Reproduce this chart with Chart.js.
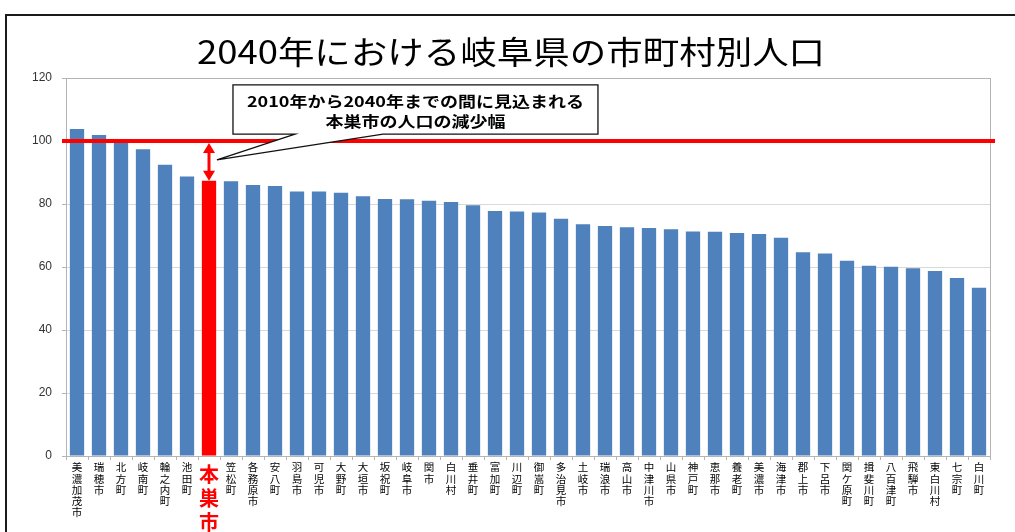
<!DOCTYPE html>
<html lang="ja">
<head>
<meta charset="utf-8">
<script src="https://cdn.jsdelivr.net/npm/chart.js@4.4.1/dist/chart.umd.min.js"></script>
<style>
html, body { margin: 0; padding: 0; background: #fff; }
#wrap { position: relative; width: 1015px; height: 532px; overflow: hidden; }
#frame { position: absolute; left: 5px; top: 14px; width: 1040px; height: 560px; border: 2px solid #1a1a1a; box-sizing: border-box; pointer-events: none; }
canvas { position: absolute; left: 0; top: 0; }
</style>
</head>
<body>
<div id="wrap">
  <canvas id="chart" width="1015" height="532"></canvas>
  <div id="frame"></div>
</div>
<script>
// data (2010 = 100)
const cities = ['美濃加茂市','瑞穂市','北方町','岐南町','輪之内町','池田町','本巣市','笠松町','各務原市','安八町',
  '羽島市','可児市','大野町','大垣市','坂祝町','岐阜市','関市','白川村','垂井町','富加町',
  '川辺町','御嵩町','多治見市','土岐市','瑞浪市','高山市','中津川市','山県市','神戸町','恵那市',
  '養老町','美濃市','海津市','郡上市','下呂市','関ケ原町','揖斐川町','八百津町','飛騨市','東白川村',
  '七宗町','白川町'];
const population = [103.8, 101.9, 100.4, 97.4, 92.5, 88.7, 87.4, 87.2, 86.0, 85.7,
  84.0, 84.0, 83.6, 82.5, 81.6, 81.5, 81.0, 80.6, 79.6, 77.8,
  77.6, 77.3, 75.3, 73.6, 73.0, 72.6, 72.4, 72.0, 71.3, 71.2,
  70.8, 70.5, 69.3, 64.7, 64.3, 62.0, 60.4, 60.1, 59.6, 58.7,
  56.5, 53.4];
const highlight = '本巣市';
const baseLine = 100;
const titleText = '2040年における岐阜県の市町村別人口';
const calloutLines = ['2010年から2040年までの間に見込まれる', '本巣市の人口の減少幅'];

const hiIndex = cities.indexOf(highlight);
const FONT = '"Noto Sans CJK JP", "Noto Sans", sans-serif';

// callout box placement in scale units (category index / y value)
const callout = { left: 7.09, right: 23.68, top: 117.8, bottom: 102.2, base1: 9.91, base2: 13.91, tipX: 6.36, tipY: 94 };

const extras = {
  id: 'extras',
  afterDatasetsDraw(chart) {
    const { ctx, chartArea: area, scales: { x, y } } = chart;
    ctx.save();
    // plot frame
    ctx.strokeStyle = '#b4b4b4';
    ctx.lineWidth = 1;
    ctx.strokeRect(area.left + 0.5, area.top + 0.5, area.right - area.left, area.bottom - area.top);

    // 100 line
    const y100 = y.getPixelForValue(baseLine);
    ctx.fillStyle = '#ff0000';
    ctx.fillRect(area.left - 4, y100 - 2, area.right - area.left + 9, 4);

    // double arrow
    const ax = x.getPixelForValue(hiIndex);
    const yTop = y100 + 2;
    const yBot = y.getPixelForValue(population[hiIndex]);
    ctx.strokeStyle = '#ff0000';
    ctx.lineWidth = 3;
    ctx.beginPath();
    ctx.moveTo(ax, yTop + 8);
    ctx.lineTo(ax, yBot - 8);
    ctx.stroke();
    ctx.beginPath();
    ctx.moveTo(ax, yTop); ctx.lineTo(ax - 6, yTop + 10); ctx.lineTo(ax + 6, yTop + 10); ctx.closePath();
    ctx.moveTo(ax, yBot); ctx.lineTo(ax - 6, yBot - 10); ctx.lineTo(ax + 6, yBot - 10); ctx.closePath();
    ctx.fill();

    // callout
    const L = x.getPixelForValue(callout.left), R = x.getPixelForValue(callout.right);
    const T = y.getPixelForValue(callout.top), B = y.getPixelForValue(callout.bottom);
    const b1 = x.getPixelForValue(callout.base1), b2 = x.getPixelForValue(callout.base2);
    const tx = x.getPixelForValue(callout.tipX), ty = y.getPixelForValue(callout.tipY);
    ctx.beginPath();
    ctx.moveTo(L, T); ctx.lineTo(R, T); ctx.lineTo(R, B); ctx.lineTo(b2, B);
    ctx.lineTo(tx, ty); ctx.lineTo(b1, B); ctx.lineTo(L, B); ctx.closePath();
    ctx.fillStyle = '#fff';
    ctx.fill();
    ctx.strokeStyle = '#111';
    ctx.lineWidth = 1.3;
    ctx.stroke();

    ctx.fillStyle = '#000';
    ctx.font = 'bold 15px ' + FONT;
    ctx.textAlign = 'center';
    ctx.textBaseline = 'middle';
    const cx = (L + R) / 2;
    calloutLines.forEach((line, i) => {
      ctx.save();
      ctx.translate(cx, T + 16 + i * 20.5);
      ctx.scale(1.2, 1);
      ctx.fillText(line, 0, 0);
      ctx.restore();
    });
    ctx.restore();
  },
  afterDraw(chart) {
    const { ctx } = chart;
    ctx.save();
    ctx.fillStyle = '#000';
    ctx.font = '32px ' + FONT;
    ctx.textAlign = 'center';
    ctx.textBaseline = 'middle';
    ctx.translate(511, 52);
    ctx.scale(1.14, 1);
    ctx.fillText(titleText, 0, 0);
    ctx.restore();
  }
};

new Chart(document.getElementById('chart'), {
  type: 'bar',
  data: {
    labels: cities.map(c => [...c]),
    datasets: [{
      data: population,
      backgroundColor: cities.map(c => c === highlight ? '#ff0000' : '#4f81bd'),
      barPercentage: 0.65,
      categoryPercentage: 1.0
    }]
  },
  options: {
    responsive: false,
    devicePixelRatio: 1,
    animation: false,
    layout: { padding: { top: 78, right: 25, bottom: 0, left: 0 } },
    plugins: { legend: { display: false }, tooltip: { enabled: false }, title: { display: false } },
    scales: {
      x: {
        grid: { display: true, drawOnChartArea: false, drawTicks: true, tickLength: 4, offset: true, color: '#b4b4b4' },
        border: { display: true, color: '#b4b4b4' },
        ticks: {
          autoSkip: false, maxRotation: 0, minRotation: 0, padding: 2,
          color: (c) => cities[c.index] === highlight ? '#ff0000' : '#000',
          font: (c) => cities[c.index] === highlight
            ? { family: FONT, size: 20, weight: 'bold', lineHeight: 1.2 }
            : { family: FONT, size: 10.5, lineHeight: 1.05 }
        },
        afterFit: (s) => { s.height = 76; }
      },
      y: {
        min: 0, max: 120,
        ticks: { stepSize: 20, padding: 10, color: '#333', font: { family: '"Liberation Sans", Arial, sans-serif', size: 12 } },
        grid: { color: '#d9d9d9', drawTicks: true, tickLength: 4, tickColor: '#b4b4b4' },
        border: { display: true, color: '#b4b4b4' },
        afterFit: (s) => { s.width = 66; }
      }
    }
  },
  plugins: [extras]
});
</script>
</body>
</html>
